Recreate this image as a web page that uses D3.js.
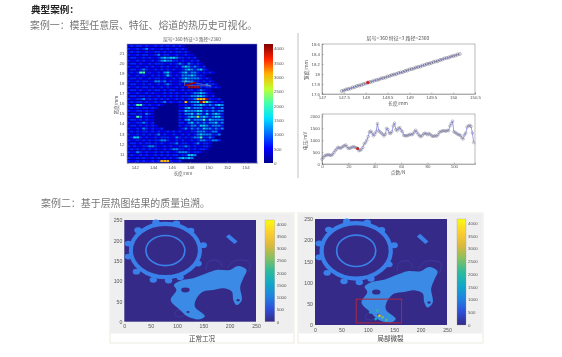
<!DOCTYPE html>
<html><head><meta charset="utf-8">
<script src="https://cdnjs.cloudflare.com/ajax/libs/d3/7.8.5/d3.min.js"></script>
<style>
html,body{margin:0;padding:0;background:#fff;overflow:hidden}
svg{display:block;filter:blur(.55px)}
text{font-family:"Noto Sans CJK SC","Noto Sans",sans-serif}
.ax text{font-size:4.4px;fill:#555;font-family:"Liberation Sans",sans-serif}
.ax path,.ax line{stroke:#666;stroke-width:.4}
.ax.big text{font-size:5.2px}
</style></head><body><svg id="c" width="562" height="357"></svg>
<script>
const heading="典型案例：";
const case1="案例一：模型任意层、特征、熔道的热历史可视化。";
const case2="案例二：基于层热图结果的质量追溯。";
const plotTitle="层号=360  特征=3  路径=2360";
const heatLevels=[0,330,480,680,1150,1550,2100,2600,3100,3950];
const heatRows=[
"2323323223232323232",
"32232342322323223232",
"232322322332323233231",
"3223233223423322322322",
"23322323223454554332323",
"322323223234544332322323",
"2332322323332232343243232",
"32232232322323223245434323",
"233234322323232322345434532",
"23236623223245322345344323232",
"32232322323235323244454332",
"2332322323323223234544443232",
"32232332244342322345443323231",
"233223232232343223233323324332",
"3223233232232322323299993233232",
"2332322323323233223233234322",
"32232232322232323223234454321",
"23323323223232323233344554323",
"3223342323232322323233488893223",
"23233232232342322328344598643323",
"32366323223200000223234454343454",
"23232332320000000224534442334234",
"32233232200000000335444553434344",
"23323243200000000324453543534543",
"32264232200000000323454745434553",
"23323232200000000324534446354444",
"32233432300000000332453434344534",
"23323232320000000323344355434443",
"32232432322300000234243435443434",
"2323233232322323232223344433442",
"3223232323423223223232345444334",
"23553232232333224323234463343",
"3223232323344322323223234433443",
"2332323323232233423322342332",
"3232233443223232233432322332",
"232323232322323443323232332",
"3224323223232322344432332",
"23223232232323233233554",
"3223232232323232345454",
"322323223238883223"
];
const heatColBarTicks=[0,500,1000,1500,2000,2500,3000,3500,4000];
const heatX=[142,144,146,148,150,152,154];
const heatY=[11,12,13,14,15,16,17,18,19,20,21];
const selPathX=[147.4,148.6];
const selPathY=[17.75,18.05];
const boxX=[147.4,147.4,150.3,149.6,147.4];
const boxY=[17.75,18.2,17.7,17.72,17.75];

const trackX=[147.45,147.5,147.55,147.6,147.65,147.7,147.75,147.8,147.85,147.9,147.95,148,148.05,148.1,148.15,148.2,148.25,148.3,148.35,148.4,148.45,148.5,148.55,148.6,148.65,148.7,148.75,148.8,148.85,148.9,148.95,149,149.05,149.1,149.15,149.2,149.25,149.3,149.35,149.4,149.45,149.5,149.55,149.6,149.65,149.7,149.75,149.8,149.85,149.9,149.95,150,150.05,150.1,150.15];
const trackY=[17.66,17.67,17.69,17.70,17.71,17.73,17.74,17.76,17.77,17.78,17.80,17.81,17.83,17.84,17.85,17.87,17.88,17.89,17.91,17.92,17.93,17.95,17.96,17.98,17.99,18.00,18.02,18.03,18.04,18.06,18.07,18.09,18.10,18.11,18.13,18.14,18.15,18.17,18.18,18.20,18.21,18.22,18.24,18.25,18.26,18.28,18.29,18.31,18.32,18.33,18.35,18.36,18.37,18.39,18.40];
const trackXTicks=[147,147.5,148,148.5,149,149.5,150,150.5];
const trackYTicks=[17.6,17.8,18,18.2,18.4,18.6];
const voltage=[200,270,340,370,380,390,370,360,400,480,560,620,700,680,660,700,740,770,800,720,650,660,680,710,730,700,680,650,560,580,620,700,850,900,1000,1150,1350,1380,1300,1180,1250,1350,1700,1400,1350,1300,1250,1180,1250,1500,1450,1300,1280,1350,1600,1720,1450,1400,1500,1530,1420,1350,1200,1190,1180,1200,1220,1250,1230,1260,1350,1420,1330,1250,1180,1150,1200,1260,1300,1270,1230,1280,1250,1190,1160,1170,1190,1170,1230,1330,1360,1380,1400,1390,1380,1410,1400,1600,1700,1800,1350,1330,1280,1250,1220,1200,1100,1050,1220,1300,1550,1600,1620,1580,1300,900];
const voltXTicks=[0,20,40,60,80,100];
const voltYTicks=[0,500,1000,1500,2000];

const parula=["#352a87","#2d4fd8","#1f83e0","#10a8c8","#2dbb9c","#85c060","#dcb93c","#fcce2e","#f9fb0e"];
const layerTicks=[0,50,100,150,200,250];
const layerBarTicks=[0,500,1000,1500,2000,2500,3000,3500,4000];
const toothPts=[[60,244],[99,242],[126,224],[150,188],[140,143],[106,109],[84,101],[55,103],[23,123],[8,160],[8,192],[26,225]];
const blobPts=[[88,53],[99,78],[94,90],[109,102],[131,107],[156,119],[175,127],[200,127],[216,137],[232,127],[226,107],[220,86],[223,53],[213,41],[207,53],[204,74],[188,82],[169,78],[150,74],[137,57],[134,37],[153,14],[144,6],[121,12],[106,29]];
const tabPts=[[193,209],[199,215],[215,197],[209,191]];
const holes=[[116,78,8,6],[121,24,3,2.5],[216,53,3,3]];
const ghostA=[[155,128],[160,148],[178,150],[186,135]];
const ghostB=[[195,132],[210,150],[238,146],[236,122]];
const ghostC=[[95,15],[110,12],[115,22],[100,28],[95,15]];
const crackPts=[[118,34,1900],[122,22,2700],[128,18,2300],[115,14,1700],[135,12,2100],[105,30,1500],[140,22,1600]];
const crackBox=[78,164,61,5];
const captions=["正常工况","局部微裂"];

const svg=d3.select("#c");
function txt(x,y,s,o={}){const t=svg.append("text").attr("x",x).attr("y",y).text(s)
 .attr("font-size",o.size||5).attr("fill",o.fill||"#555").attr("text-anchor",o.a||"middle")
 .attr("font-weight",o.w||400);
 if(o.r)t.attr("transform",`rotate(${o.r} ${x} ${y})`);return t;}
function axis(g,ax,tr){const s=svg.append("g").attr("class",g?"ax big":"ax").attr("transform",tr).call(ax);return s;}

txt(31,13,heading,{size:9.6,fill:"#222",a:"start",w:700});
txt(30,29,case1,{size:9.9,fill:"#777",a:"start"});
txt(41,207,case2,{size:9.95,fill:"#777",a:"start"});
svg.append("line").attr("x1",298).attr("x2",298).attr("y1",33).attr("y2",178).attr("stroke","#ccc").attr("stroke-width",1.2);

// ---------- heat map
const jet=d3.scaleLinear().domain([0,500,1050,1600,2100,2650,3150,3650,4150])
 .range(["#00008f","#0000ff","#0070ff","#00e0ff","#40ffb0","#c0ff30","#ffb000","#ff2000","#800000"]);
const hm={l:127,r:257,t:44,b:163};
const hc=d3.scaleBand().domain(d3.range(43)).range([hm.l,hm.r]).padding(.05);
const hr=d3.scaleBand().domain(d3.range(40)).range([hm.t,hm.b]).padding(.33);
svg.append("rect").attr("x",hm.l).attr("y",hm.t).attr("width",hm.r-hm.l).attr("height",hm.b-hm.t).attr("fill","#00008f");
const cells=[];heatRows.forEach((row,r)=>[...row].forEach((c,k)=>{if(c!=="0")cells.push({r,k,v:heatLevels[+c]});}));
svg.append("g").selectAll("rect").data(cells).join("rect")
 .attr("x",d=>hc(d.k)).attr("y",d=>hr(d.r)).attr("width",hc.bandwidth()).attr("height",hr.bandwidth())
 .attr("fill",d=>jet(d.v));
const hx=d3.scaleLinear().domain([141.15,155.25]).range([hm.l,hm.r]);
const hy=d3.scaleLinear().domain([10.1,21.85]).range([hm.b,hm.t]);
svg.append("path").attr("d",d3.line().x((d,i)=>hx(boxX[i])).y((d,i)=>hy(boxY[i]))(boxX)).attr("fill","none").attr("stroke","#9ab").attr("stroke-width",.5);
svg.append("path").attr("d",d3.line().x((d,i)=>hx(selPathX[i])).y((d,i)=>hy(selPathY[i]))(selPathX)).attr("stroke","#a00000").attr("stroke-width",1.6);
axis(0,d3.axisBottom(hx).tickValues(heatX).tickSize(-1.5).tickPadding(2.8),`translate(0,${hm.b})`);
axis(0,d3.axisLeft(hy).tickValues(heatY).tickSize(-1.5).tickPadding(2.5),`translate(${hm.l},0)`);
svg.append("rect").attr("x",hm.l).attr("y",hm.t).attr("width",hm.r-hm.l).attr("height",hm.b-hm.t).attr("fill","none").attr("stroke","#8888c8").attr("stroke-width",.5);
const defs=svg.append("defs");
function grad(id,dom,sc){const g=defs.append("linearGradient").attr("id",id).attr("x1",0).attr("x2",0).attr("y1",1).attr("y2",0);
 dom.forEach((d,i)=>g.append("stop").attr("offset",i/(dom.length-1)).attr("stop-color",sc[i]));}
grad("gj",jet.domain(),jet.range());
grad("gp",parula,parula);
svg.append("rect").attr("x",264).attr("y",hm.t).attr("width",9).attr("height",hm.b-hm.t).attr("fill","url(#gj)");
const hb=d3.scaleLinear().domain([0,4150]).range([hm.b,hm.t]);
axis(0,d3.axisRight(hb).tickValues(heatColBarTicks).tickSize(0).tickPadding(1).tickFormat(d3.format("d")),`translate(273,0)`).select(".domain").remove();
txt(192,41,plotTitle,{size:4.6});
txt(183,175.2,"长度/mm",{size:4.4});
txt(118,105,"宽度/mm",{size:4.4,r:-90});

// ---------- track
const tm={l:322,r:475,t:44,b:94};
const tx=d3.scaleLinear().domain([147,150.5]).range([tm.l,tm.r]);
const ty=d3.scaleLinear().domain([17.6,18.6]).range([tm.b,tm.t]);
svg.append("rect").attr("x",tm.l).attr("y",tm.t).attr("width",tm.r-tm.l).attr("height",tm.b-tm.t).attr("fill","none").attr("stroke","#777").attr("stroke-width",.5);
axis(0,d3.axisBottom(tx).tickValues(trackXTicks).tickSize(-1.5).tickPadding(1.5).tickFormat(d3.format("~g")),`translate(0,${tm.b})`);
axis(0,d3.axisLeft(ty).tickValues(trackYTicks).tickSize(-1.5).tickPadding(2).tickFormat(d3.format("~g")),`translate(${tm.l},0)`);
svg.append("path").attr("d",d3.line().x(d=>tx(d)).y((d,i)=>ty(trackY[i]))(trackX)).attr("stroke","#3333cc").attr("stroke-width",.6).attr("fill","none");
svg.append("g").selectAll("circle").data(trackX).join("circle").attr("cx",d=>tx(d)).attr("cy",(d,i)=>ty(trackY[i])).attr("r",1.5)
 .attr("fill","none").attr("stroke",(d,i)=>i==12?"#d02020":"#667").attr("stroke-width",.5);
svg.append("circle").attr("cx",tx(trackX[12])).attr("cy",ty(trackY[12])).attr("r",1.5).attr("fill","#d02020");
txt(398,40,plotTitle,{size:5});
txt(398,104.6,"长度/mm",{size:4.7});
txt(308,70,"宽度/mm",{size:4.7,r:-90});

// ---------- voltage
const vm={l:322,r:475,t:114,b:164};
const vx=d3.scaleLinear().domain([0,116]).range([vm.l,vm.r]);
const vy=d3.scaleLinear().domain([0,2100]).range([vm.b,vm.t]);
svg.append("rect").attr("x",vm.l).attr("y",vm.t).attr("width",vm.r-vm.l).attr("height",vm.b-vm.t).attr("fill","none").attr("stroke","#777").attr("stroke-width",.5);
axis(0,d3.axisBottom(vx).tickValues(voltXTicks).tickSize(-1.5).tickPadding(1.2),`translate(0,${vm.b})`);
axis(0,d3.axisLeft(vy).tickValues(voltYTicks).tickSize(-1.5).tickPadding(2).tickFormat(d3.format("d")),`translate(${vm.l},0)`);
svg.append("path").attr("d",d3.line().x((d,i)=>vx(i)).y(d=>vy(d))(voltage)).attr("stroke","#5a5af0").attr("stroke-width",.6).attr("fill","none");
svg.append("g").selectAll("circle").data(voltage).join("circle").attr("cx",(d,i)=>vx(i)).attr("cy",d=>vy(d)).attr("r",1.3)
 .attr("fill","none").attr("stroke","#778").attr("stroke-width",.45);
svg.append("circle").attr("cx",vx(27)).attr("cy",vy(voltage[27])).attr("r",1.5).attr("fill","#d02020");
txt(398,174.2,"点数/N",{size:4.7});
txt(307,141,"电压/mV",{size:4.7,r:-90});

// ---------- layer cards
function card(o,idx){
 svg.append("rect").attr("x",o.cl).attr("y",213).attr("width",o.cr-o.cl).attr("height",130).attr("fill","#fff").attr("stroke","#e8e4d8").attr("stroke-width",.8);
 svg.append("rect").attr("x",o.cl+.5).attr("y",213.5).attr("width",o.cr-o.cl-1).attr("height",120).attr("fill","#efefef");
 const x=d3.scaleLinear().domain([0,250]).range([o.l,o.r]);
 const y=d3.scaleLinear().domain([0,250]).range([o.b,o.t]);
 const rx=Math.abs(x(1)-x(0)),ry=Math.abs(y(1)-y(0));
 svg.append("rect").attr("x",o.l).attr("y",o.t).attr("width",o.r-o.l).attr("height",o.b-o.t).attr("fill",parula[0]);
 const part="#3a80ea",blob="#3a8ae6",ghost="#4348b4";
 const g=svg.append("g");
 [ghostA,ghostB,ghostC].forEach(p=>g.append("path").attr("d",d3.line().x(d=>x(d[0])).y(d=>y(d[1])).curve(d3.curveCatmullRom)(p)).attr("fill","none").attr("stroke",ghost).attr("stroke-width",.5));
 g.append("ellipse").attr("cx",x(78)).attr("cy",y(175)).attr("rx",65.5*rx).attr("ry",65.5*ry).attr("fill","none").attr("stroke",part).attr("stroke-width",10*ry);
 g.append("ellipse").attr("cx",x(78)).attr("cy",y(175)).attr("rx",37*rx).attr("ry",37*ry).attr("fill","none").attr("stroke",part).attr("stroke-width",4*ry);
 g.selectAll(".t").data(toothPts).join("ellipse").attr("cx",d=>x(d[0])).attr("cy",d=>y(d[1])).attr("rx",7*rx).attr("ry",7*ry).attr("fill",part);
 g.append("path").attr("d",d3.line().x(d=>x(d[0])).y(d=>y(d[1])).curve(d3.curveLinearClosed)(tabPts)).attr("fill",part);
 g.append("path").attr("d",d3.line().x(d=>x(d[0])).y(d=>y(d[1])).curve(d3.curveCatmullRomClosed)(blobPts)).attr("fill",blob);
 g.selectAll(".h").data(holes).join("ellipse").attr("cx",d=>x(d[0])).attr("cy",d=>y(d[1])).attr("rx",d=>d[2]*rx).attr("ry",d=>d[3]*ry).attr("fill",parula[0]);
 if(idx==1){
  const pc=d3.scaleLinear().domain([1000,1700,2300,2700]).range(["#3a8ae6","#10b0c0","#70c060","#e0c040"]);
  g.selectAll(".c").data(crackPts).join("circle").attr("cx",d=>x(d[0])).attr("cy",d=>y(d[1])).attr("r",1.4).attr("fill",d=>pc(d[2]));
  svg.append("rect").attr("x",x(crackBox[0])).attr("y",y(crackBox[2])).attr("width",x(crackBox[1])-x(crackBox[0])).attr("height",y(crackBox[3])-y(crackBox[2])).attr("fill","none").attr("stroke","#b02838").attr("stroke-width",1);
 }
 axis(1,d3.axisBottom(x).tickValues(layerTicks).tickSize(0).tickPadding(3),`translate(0,${o.b})`).select(".domain").remove();
 axis(1,d3.axisLeft(y).tickValues(layerTicks).tickSize(0).tickPadding(2),`translate(${o.l},0)`).select(".domain").remove();
 svg.append("rect").attr("x",o.bl).attr("y",o.t).attr("width",o.br-o.bl).attr("height",o.b-o.t).attr("fill","url(#gp)").attr("stroke","#999").attr("stroke-width",.3);
 const bs=d3.scaleLinear().domain([0,4150]).range([o.b,o.t]);
 axis(0,d3.axisRight(bs).tickValues(layerBarTicks).tickSize(0).tickPadding(2).tickFormat(d3.format("d")),`translate(${o.br},0)`).select(".domain").remove();
 txt((o.cl+o.cr)/2,341,captions[idx],{size:6.5,fill:"#444"});
}
card({cl:110,cr:294,l:124.3,r:256,t:220,b:321.7,bl:265,br:274.7},0);
card({cl:298,cr:483,l:315,r:447,t:219,b:325,bl:457,br:466},1);
</script></body></html>
